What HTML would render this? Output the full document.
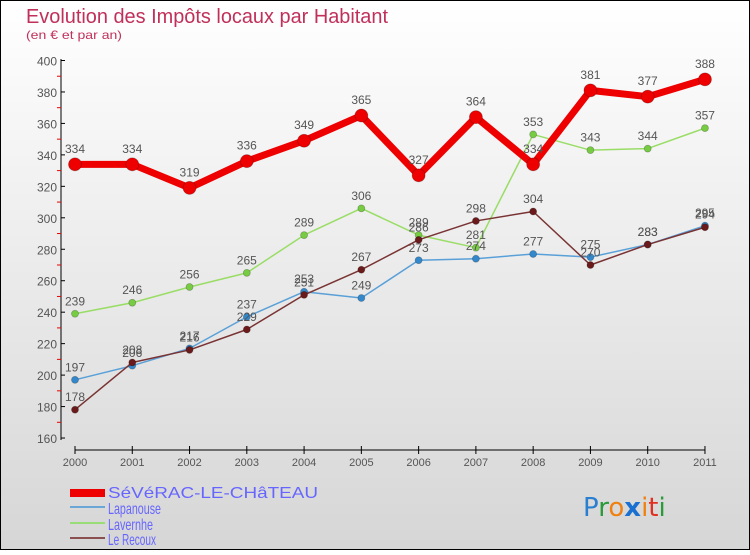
<!DOCTYPE html>
<html><head><meta charset="utf-8"><style>
body{margin:0;width:750px;height:550px;overflow:hidden;font-family:"Liberation Sans",sans-serif}
</style></head><body>
<svg width="750" height="550" xmlns="http://www.w3.org/2000/svg" font-family="Liberation Sans, sans-serif">
<defs><linearGradient id="bg" x1="0" y1="0" x2="0" y2="1"><stop offset="0" stop-color="#ffffff"/><stop offset="1" stop-color="#d6d6d6"/></linearGradient></defs>
<rect x="0.5" y="0.5" width="749" height="549" fill="url(#bg)" stroke="#000"/>
<text x="26" y="23" font-size="20" fill="#c0305a" textLength="362" lengthAdjust="spacingAndGlyphs">Evolution des Impôts locaux par Habitant</text>
<text x="26" y="39" font-size="12" fill="#c0305a" textLength="96" lengthAdjust="spacingAndGlyphs">(en € et par an)</text>
<g id="axes"></g><g id="series"></g>
<g font-size="16" fill="#6666ff">
<rect x="70" y="489" width="35" height="8" fill="#ee0000"/>
<text x="108" y="498" textLength="210" lengthAdjust="spacingAndGlyphs">SéVéRAC-LE-CHâTEAU</text>
<rect x="70" y="506" width="35" height="2" fill="#6aa6d6"/>
<text x="108" y="514" textLength="53" lengthAdjust="spacingAndGlyphs">Lapanouse</text>
<rect x="70" y="522" width="35" height="2" fill="#99dd77"/>
<text x="108" y="530" textLength="45" lengthAdjust="spacingAndGlyphs">Lavernhe</text>
<rect x="70" y="537" width="35" height="2" fill="#8a5050"/>
<text x="108" y="545" textLength="48" lengthAdjust="spacingAndGlyphs">Le Recoux</text>
</g>
<g font-size="26" font-family="DejaVu Sans, sans-serif">
<text x="583" y="516"><tspan fill="#2a7fd0">P</tspan><tspan fill="#2a9a3a">r</tspan><tspan fill="#f08010">o</tspan><tspan fill="#1a70d0" font-weight="bold">x</tspan><tspan fill="#f08010">i</tspan><tspan fill="#e03020">t</tspan><tspan fill="#2a9a3a">i</tspan></text>
</g>
</svg>
<script>
const years=["2000","2001","2002","2003","2004","2005","2006","2007","2008","2009","2010","2011"];
const yTicks=[160,180,200,220,240,260,280,300,320,340,360,380,400];
const severac=[334,334,319,336,349,365,327,364,334,381,377,388];
const lapanouse=[197,206,217,237,253,249,273,274,277,275,283,295];
const lavernhe=[239,246,256,265,289,306,289,281,353,343,344,357];
const lerecoux=[178,208,216,229,251,267,286,298,304,270,283,294];
const NS="http://www.w3.org/2000/svg";
const xs=i=>75+i*57.27, ys=v=>60.5+(400-v)*1.573;
function mk(t,a,p){const e=document.createElementNS(NS,t);for(const k in a)e.setAttribute(k,a[k]);p.appendChild(e);return e;}
const ax=document.getElementById('axes');
const ya=mk('line',{x1:61,y1:59,x2:61,y2:440,stroke:'#000'},ax);


yTicks.forEach((v,i)=>{
  mk('line',{x1:61,y1:ys(v),x2:65,y2:ys(v),stroke:'#000'},ax);
  const t=mk('text',{x:57,y:ys(v)+5,'text-anchor':'end','font-size':12,fill:'#555'},ax);t.textContent=v;
  
  
  if(i<yTicks.length-1)mk('line',{x1:57,y1:ys(v+10),x2:61,y2:ys(v+10),stroke:'#e00'},ax);
});
const xa=mk('line',{x1:75,y1:450,x2:705,y2:450,stroke:'#000'},ax);


years.forEach((y,i)=>{
  mk('line',{x1:xs(i),y1:446,x2:xs(i),y2:454,stroke:'#000'},ax);
  const t=mk('text',{x:xs(i),y:466,'text-anchor':'middle','font-size':11,fill:'#555'},ax);t.textContent=y;
  
  
});
const sg=document.getElementById('series');
function series(name,data,color,w,r,fill){
  const g=mk('g',{},sg);
  
  
  mk('polyline',{points:data.map((v,i)=>xs(i)+','+ys(v)).join(' '),fill:'none',stroke:color,'stroke-width':w,'stroke-linejoin':'round'},g);
  data.forEach((v,i)=>{
    const c=mk('circle',{cx:xs(i),cy:ys(v),r:r,fill:fill,stroke:'rgba(0,0,0,0.25)','stroke-width':0.8},g);
    
    
    const t=mk('text',{x:xs(i),y:ys(v)-r-5,'text-anchor':'middle','font-size':12,fill:'#555'},g);t.textContent=v;
    
    
  });
}
series('lavernhe',lavernhe,'#99dd66',1.5,3.5,'#77cc44');
series('lapanouse',lapanouse,'#5aa0d8',1.5,3.5,'#3388cc');
series('lerecoux',lerecoux,'#7a3333',1.5,3.5,'#6a1a1a');
series('severac',severac,'#ee0000',7,6.5,'#ee0000');
</script>
</body></html>
